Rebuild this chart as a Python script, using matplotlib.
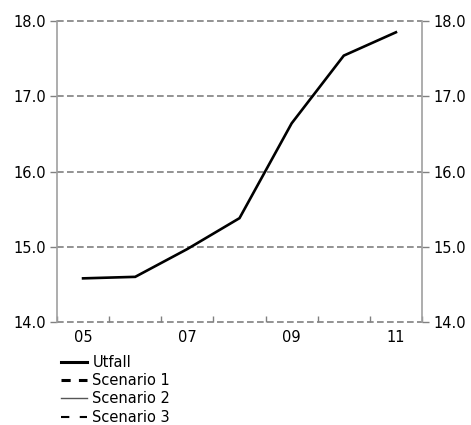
import matplotlib
matplotlib.use("Agg")
import matplotlib.pyplot as plt
from matplotlib.lines import Line2D

plt.rcParams['font.family'] = ['DejaVu Sans']

years = ['05', '06', '07', '08', '09', '10', '11']
utfall = [14.58, 14.60, 14.97, 15.38, 16.64, 17.54, 17.85]
y_ticks = [14.0, 15.0, 16.0, 17.0, 18.0]
shown_labels = ['05', '07', '09', '11']

grey = '#808080'

fig = plt.figure(figsize=(4.71, 4.25), dpi=100)
ax = fig.add_axes([57 / 471, 1 - 322 / 425, 365 / 471, 301 / 425])

x = list(range(len(years)))
ax.plot(x, utfall, color='black', lw=1.9, solid_joinstyle='miter')

ax.set_xlim(-0.5, len(years) - 0.5)
ax.set_ylim(14.0, 18.0)

# gridlines
for v in y_ticks:
    ax.axhline(v, color=grey, lw=1.2, ls=(0, (4, 2)), zorder=0, clip_on=False)

ax.set_yticks(y_ticks)
ax.set_yticklabels([f'{v:.1f}' for v in y_ticks])
ax.tick_params(axis='y', which='both', direction='out', length=5, width=1, color=grey,
               labelsize=10.5, labelright=True, right=True, pad=3)

# x: tick marks at category boundaries, labels at every other category center
ax.set_xticks([i - 0.5 for i in range(len(years) + 1)])
ax.set_xticklabels([])
ax.tick_params(axis='x', which='major', direction='in', length=4, width=1, color=grey)
ax.set_xticks([years.index(l) for l in shown_labels], minor=True)
ax.set_xticklabels(shown_labels, minor=True)
ax.tick_params(axis='x', which='minor', length=0, labelsize=10.5, pad=6)

ax.spines['top'].set_visible(False)
ax.spines['bottom'].set_visible(False)
for s in ['left', 'right']:
    ax.spines[s].set_color('#a0a0a0')
    ax.spines[s].set_linewidth(1.2)

handles = [
    Line2D([], [], color='black', lw=2.2),
    Line2D([], [], color='black', lw=2.2, ls=(0, (3, 2.7))),
    Line2D([], [], color='#555555', lw=1.0),
    Line2D([], [], color='black', lw=1.5, ls=(0, (4, 5))),
]
labels = ['Utfall', 'Scenario 1', 'Scenario 2', 'Scenario 3']
fig.legend(handles, labels, loc='upper left', bbox_to_anchor=(61 / 471, 1 - 355 / 425),
           frameon=False, fontsize=10.5, handlelength=1.8, handletextpad=0.35,
           labelspacing=0.22, borderpad=0, borderaxespad=0)

fig.savefig('out.png', dpi=100)
